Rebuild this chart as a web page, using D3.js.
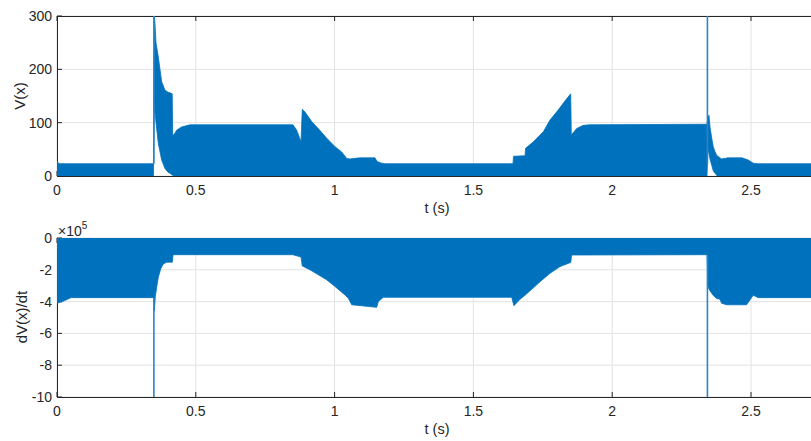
<!DOCTYPE html>
<html>
<head>
<meta charset="utf-8">
<script src="https://cdn.jsdelivr.net/npm/d3@7"></script>
<style>
html,body{margin:0;padding:0;background:#fff;overflow:hidden;}
text{font-family:"Liberation Sans",Arial,Helvetica,sans-serif;fill:#262626;}
</style>
</head>
<body>
<svg id="chart" width="811" height="441"></svg>
<script>
// ---------- DATA ----------
const xTicks = [0, 0.5, 1, 1.5, 2, 2.5];
const xTickLabels = ["0", "0.5", "1", "1.5", "2", "2.5"];
const vTicks = [0, 100, 200, 300];
const vTickLabels = ["0", "100", "200", "300"];
const dTicks = [0, -2, -4, -6, -8, -10];
const dTickLabels = ["0", "-2", "-4", "-6", "-8", "-10"];

// V(x) envelope of the dense oscillation (upper / lower bound)
const tV  = [0, 0.007, 0.3476, 0.3505, 0.353, 0.3566, 0.365, 0.377, 0.389, 0.400, 0.407, 0.415, 0.417, 0.425, 0.431, 0.449, 0.479, 0.515,
             0.850, 0.8635, 0.879, 0.8836, 0.8934, 0.9175, 0.941, 0.9716, 1.0014, 1.0256, 1.0436, 1.0555, 1.09, 1.1455, 1.153, 1.170, 1.1816,
             1.6427, 1.6445, 1.686, 1.688, 1.716, 1.752, 1.776, 1.806, 1.836, 1.8505, 1.8527, 1.872, 1.896, 1.92,
             2.3415, 2.3448, 2.3487, 2.3523, 2.3585, 2.364, 2.370, 2.3764, 2.378, 2.394, 2.417, 2.4676, 2.490, 2.508, 2.525, 2.8];
const vHi = [28, 23, 23, 300, 286, 250, 223, 177, 161, 157, 156, 154, 76, 80, 86, 92, 96, 96,
             96, 86, 64, 125, 120, 102, 89, 71, 55, 45, 33, 32, 34, 34, 27, 24, 23,
             23, 37, 38, 52, 64, 83, 105, 124, 145, 154, 77, 89, 95, 96,
             97, 110, 114, 92, 71, 55, 46, 39, 38, 32, 34, 34, 30, 24, 23, 23];
const vLo = [0, 0, 0, 150, 120, 100, 61, 30, 14, 7, 5, 2, 1, 0, 0, 0, 0, 0,
             0, 0, 0, 0, 0, 0, 0, 0, 0, 0, 0, 0, 0, 0, 0, 0, 0,
             0, 0, 0, 0, 0, 0, 0, 0, 0, 0, 0, 0, 0, 0,
             0, 50, 42, 32, 20, 10, 5, 2, 0, 0, 0, 0, 0, 0, 0, 0];

// dV(x)/dt envelope (units of 1e5)
const tD  = [0, 0.02, 0.05, 0.3476, 0.3505, 0.3541, 0.359, 0.365, 0.3736, 0.383, 0.395, 0.4155, 0.418,
             0.850, 0.879, 0.8836, 0.9113, 0.9715, 1.0014, 1.0375, 1.0494, 1.0616, 1.1517, 1.1575, 1.1755,
             1.638, 1.646, 1.668, 1.686, 1.74, 1.776, 1.812, 1.848, 1.851, 1.8537,
             2.3415, 2.3455, 2.3515, 2.3635, 2.376, 2.388, 2.394, 2.412, 2.484, 2.496, 2.508, 2.526, 2.8];
const dLo = [-4.1, -4.0, -3.75, -3.75, -4.6, -3.7, -3.1, -2.47, -1.94, -1.63, -1.52, -1.52, -1.05,
             -1.05, -1.2, -1.76, -2.0, -2.63, -3.05, -3.58, -3.79, -4.2, -4.36, -4.0, -3.73,
             -3.73, -4.26, -3.85, -3.6, -2.75, -2.22, -1.8, -1.55, -1.52, -1.07,
             -1.05, -3.1, -3.3, -3.6, -3.8, -3.85, -4.1, -4.2, -4.2, -3.9, -3.6, -3.75, -3.75];
const dHi = [0, 0, 0, 0, 0.1, 0.1, 0.1, 0.1, 0.1, 0.1, 0.1, 0.1, 0.1,
             0.1, 0.1, 0.1, 0.1, 0.1, 0.1, 0.1, 0.1, 0.1, 0.1, 0, 0,
             0, 0.1, 0.1, 0.1, 0.1, 0.1, 0.1, 0.1, 0.1, 0.1,
             0.1, 0.1, 0.1, 0.1, 0.1, 0.1, 0.1, 0.1, 0.05, 0, 0, 0, 0];

// switching spikes
const spikeT = [0.349, 2.343];
const spikeVTop = [320, 320];
const spikeVBase = [23, 23];
const spikeDTop = [-3.75, -1.05];
const spikeDBottom = [-11, -11];

// ---------- DRAWING ----------
const blue = "#0072BD";
const axisCol = "#262626";
const gridCol = "#e3e3e3";
const svg = d3.select("#chart");

const x = d3.scaleLinear().domain([0, 2.8]).range([57, 57 + 2.8 * 277.6]);
const yV = d3.scaleLinear().domain([0, 300]).range([176, 16]);
const yD = d3.scaleLinear().domain([-10, 0]).range([397, 238]);

function panel(id, y, yTicks, yTickLabels, drawData) {
  const [y0, y1] = y.range();
  const x0 = x.range()[0], x1 = x.range()[1];
  const g = svg.append("g");
  svg.append("clipPath").attr("id", id).append("rect")
    .attr("x", x0).attr("y", y1).attr("width", x1 - x0).attr("height", y0 - y1);
  // grid
  g.selectAll(".gx").data(xTicks).enter().append("line")
    .attr("x1", d => x(d)).attr("x2", d => x(d)).attr("y1", y0).attr("y2", y1)
    .attr("stroke", gridCol).attr("stroke-width", 1);
  g.selectAll(".gy").data(yTicks).enter().append("line")
    .attr("x1", x0).attr("x2", x1).attr("y1", d => y(d)).attr("y2", d => y(d))
    .attr("stroke", gridCol).attr("stroke-width", 1);
  // box lines
  g.append("line").attr("x1", x0).attr("x2", x1).attr("y1", y0 + 0.5).attr("y2", y0 + 0.5).attr("stroke", axisCol);
  g.append("line").attr("x1", x0).attr("x2", x1).attr("y1", y1 + 0.5).attr("y2", y1 + 0.5).attr("stroke", axisCol);
  g.append("line").attr("x1", x0 + 0.5).attr("x2", x0 + 0.5).attr("y1", y0).attr("y2", y1).attr("stroke", axisCol);
  // ticks (inside)
  const tl = 5;
  g.selectAll(".tb").data(xTicks).enter().append("line")
    .attr("x1", d => x(d)).attr("x2", d => x(d)).attr("y1", y0).attr("y2", y0 - tl).attr("stroke", axisCol);
  g.selectAll(".tt").data(xTicks).enter().append("line")
    .attr("x1", d => x(d)).attr("x2", d => x(d)).attr("y1", y1).attr("y2", y1 + tl).attr("stroke", axisCol);
  g.selectAll(".tl").data(yTicks).enter().append("line")
    .attr("x1", x0).attr("x2", x0 + tl).attr("y1", d => y(d)).attr("y2", d => y(d)).attr("stroke", axisCol);
  // data
  const dg = svg.append("g").attr("clip-path", `url(#${id})`);
  drawData(dg);
  // tick labels
  svg.selectAll(".xl" + id).data(xTicks).enter().append("text")
    .attr("x", d => x(d)).attr("y", y0 + 19).attr("text-anchor", "middle")
    .attr("font-size", 14).text((d, i) => xTickLabels[i]);
  svg.selectAll(".yl" + id).data(yTicks).enter().append("text")
    .attr("x", x0 - 5).attr("y", d => y(d) + 5).attr("text-anchor", "end")
    .attr("font-size", 14).text((d, i) => yTickLabels[i]);
  // x label
  svg.append("text").attr("x", 437).attr("y", y0 + 37).attr("text-anchor", "middle")
    .attr("font-size", 14.5).text("t (s)");
}

panel("cv", yV, vTicks, vTickLabels, dg => {
  const area = d3.area().x((d, i) => x(tV[i])).y0((d, i) => yV(vLo[i])).y1((d, i) => yV(vHi[i]));
  dg.append("path").attr("d", area(tV)).attr("fill", blue).attr("stroke", blue).attr("stroke-width", 0.8);
  dg.selectAll(".sp").data(spikeT).enter().append("line")
    .attr("x1", d => x(d)).attr("x2", d => x(d))
    .attr("y1", (d, i) => yV(spikeVBase[i])).attr("y2", (d, i) => yV(spikeVTop[i]))
    .attr("stroke", "#2a85c8").attr("stroke-width", 1.6);
});

panel("cd", yD, dTicks, dTickLabels, dg => {
  const area = d3.area().x((d, i) => x(tD[i])).y0((d, i) => yD(dLo[i])).y1((d, i) => yD(dHi[i]));
  dg.append("path").attr("d", area(tD)).attr("fill", blue).attr("stroke", blue).attr("stroke-width", 0.8);
  dg.selectAll(".sp").data(spikeT).enter().append("line")
    .attr("x1", d => x(d)).attr("x2", d => x(d))
    .attr("y1", (d, i) => yD(spikeDTop[i])).attr("y2", (d, i) => yD(spikeDBottom[i]))
    .attr("stroke", "#2a85c8").attr("stroke-width", 1.6);
});

// y labels
svg.append("text").attr("transform", "translate(25,96) rotate(-90)").attr("text-anchor", "middle")
  .attr("font-size", 15).text("V(x)");
svg.append("text").attr("transform", "translate(27,317) rotate(-90)").attr("text-anchor", "middle")
  .attr("font-size", 15).text("dV(x)/dt");

// exponent
const ex = svg.append("text").attr("x", 58).attr("y", 235.5).attr("font-size", 14);
ex.append("tspan").text("\u00d710");
ex.append("tspan").attr("font-size", 10).attr("dy", -7).text("5");
</script>
</body>
</html>
